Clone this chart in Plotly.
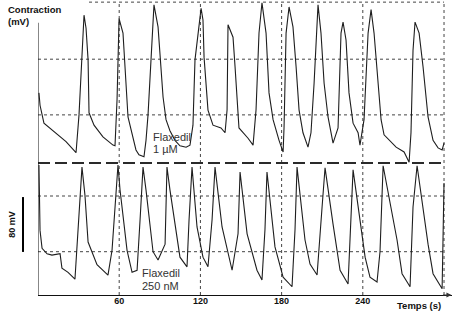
import plotly.graph_objects as go

# ---- data (time in s, contraction in mV, traces offset on a common scale) ----
top_t = [0.7, 1.5, 4.4, 13.3, 20.7, 28.1, 30.3, 34.0, 35.5, 37.0, 37.7, 41.4, 48.0, 55.4, 56.9, 58.4, 59.9,
         62.8, 66.5, 72.4, 74.6, 78.3, 79.8, 81.3, 85.7, 88.7, 92.4, 94.6, 97.5, 101.2, 104.9, 109.4, 112.3,
         114.5, 116.0, 120.5, 121.9, 122.7, 125.6, 129.3, 135.2, 138.2, 139.7, 140.4, 144.1, 145.6, 148.5,
         155.2, 158.9, 161.1, 163.3, 165.5, 168.5, 170.7, 173.7, 178.1, 181.1, 181.8, 183.3, 185.5, 188.4,
         190.7, 192.9, 195.8, 199.5, 201.7, 204.0, 206.9, 209.1, 211.4, 214.3, 218.0, 221.7, 223.9, 225.4,
         227.6, 229.8, 232.8, 236.5, 237.9, 240.9, 243.9, 246.1, 248.3, 251.3, 253.5, 255.7, 264.6, 270.5,
         274.2, 275.6, 277.1, 278.6, 281.6, 284.5, 288.2, 291.9, 295.6, 298.6, 300.0]
top_mv = [294, 276, 250, 236, 223, 207, 262, 407, 388, 342, 265, 247, 230, 218, 217, 284, 402,
          381, 259, 211, 204, 201, 225, 262, 422, 390, 288, 255, 239, 225, 217, 215, 218,
          247, 342, 417, 400, 346, 269, 247, 243, 236, 269, 393, 375, 332, 243,
          228, 218, 269, 381, 425, 381, 294, 255, 225, 208, 244, 381, 419, 390,
          332, 269, 236, 215, 236, 308, 422, 381, 308, 259, 221, 243, 381, 397,
          371, 294, 250, 236, 218, 255, 381, 415, 381, 308, 255, 233, 215, 208,
          193, 236, 356, 397, 381, 332, 259, 225, 214, 211, 221]

bot_t = [0.7, 1.5, 3.0, 6.7, 10.3, 16.3, 17.7, 22.2, 27.3, 30.3, 32.5, 34.7, 37.0, 43.6, 51.7, 54.7, 59.1,
         60.6, 65.8, 69.5, 73.2, 75.4, 77.6, 79.8, 85.0, 88.7, 93.9, 95.3, 97.5, 104.9, 110.1, 111.6, 113.8,
         117.5, 121.9, 125.6, 128.6, 130.8, 136.0, 143.4, 147.8, 149.3, 154.5, 161.8, 165.5, 167.7, 169.2,
         175.1, 181.1, 187.7, 189.9, 191.4, 197.3, 201.0, 206.2, 209.9, 212.1, 218.0, 223.2, 229.1, 230.6,
         232.8, 241.7, 245.3, 250.5, 252.7, 255.0, 265.3, 269.0, 274.9, 277.1, 280.1, 288.2, 291.9, 298.6, 300.0]
bot_mv = [189, 94, 68, 60, 58, 60, 39, 33, 23, 109, 186, 145, 77, 44, 29, 65, 189,
          153, 65, 33, 36, 109, 186, 153, 63, 51, 74, 186, 153, 55, 41, 109, 186,
          99, 55, 41, 109, 186, 99, 36, 89, 179, 89, 36, 22, 95, 179,
          70, 26, 12, 95, 186, 80, 45, 29, 128, 185, 103, 36, 16, 95,
          182, 55, 26, 19, 63, 188, 80, 31, 12, 128, 188, 74, 31, 9, 163]

x_ticks = [60, 120, 180, 240]
x_tick_labels = ["60", "120", "180", "240"]
v_grid = [60, 120, 180, 240, 300]
h_grid = [343, 262, 144, 63]
top_grid = 426
separator = 192

FONT = "Liberation Sans, Arial, sans-serif"
TRACE = "#1e1e1e"
GRID = "#444444"

fig = go.Figure()
fig.add_trace(go.Scatter(x=top_t, y=top_mv, mode="lines",
                         line=dict(color=TRACE, width=1.1), hoverinfo="skip", showlegend=False))
fig.add_trace(go.Scatter(x=bot_t, y=bot_mv, mode="lines",
                         line=dict(color=TRACE, width=1.1), hoverinfo="skip", showlegend=False))

shapes = []
for v in v_grid:
    shapes.append(dict(type="line", xref="x", yref="y", x0=v, x1=v, y0=0, y1=top_grid,
                       line=dict(color=GRID, width=1, dash="dot"), layer="below"))
for h in h_grid:
    shapes.append(dict(type="line", xref="x", yref="y", x0=0, x1=300, y0=h, y1=h,
                       line=dict(color=GRID, width=1, dash="dot"), layer="below"))
shapes.append(dict(type="line", xref="x", yref="y", x0=37.7, x1=300, y0=top_grid, y1=top_grid,
                   line=dict(color=GRID, width=1, dash="dot"), layer="below"))
# separator between the two recordings
shapes.append(dict(type="line", xref="x", yref="y", x0=0, x1=300, y0=separator, y1=separator,
                   line=dict(color="#2a2a2a", width=2, dash="12px,5px")))
# left axis
shapes.append(dict(type="line", xref="x", yref="y", x0=0, x1=0, y0=0, y1=396,
                   line=dict(color="#111111", width=1)))
# 80 mV scale bar
shapes.append(dict(type="line", xref="paper", yref="paper", x0=-0.0362, x1=-0.0362, y0=0.146, y1=0.332,
                   line=dict(color="#000000", width=2)))

annotations = [
    dict(text="<b>Contraction</b>", xref="paper", yref="paper", x=-0.078, y=0.968,
         xanchor="left", yanchor="middle", showarrow=False, font=dict(family=FONT, size=9.5, color="#111")),
    dict(text="<b>(mV)</b>", xref="paper", yref="paper", x=-0.078, y=0.928,
         xanchor="left", yanchor="middle", showarrow=False, font=dict(family=FONT, size=9.5, color="#111")),
    dict(text="<b>80 mV</b>", xref="paper", yref="paper", x=-0.063, y=0.241, textangle=-90,
         xanchor="center", yanchor="middle", showarrow=False, font=dict(family=FONT, size=9, color="#111")),
    dict(text="<b>Temps (s)</b>", xref="paper", yref="paper", x=0.978, y=-0.037,
         xanchor="right", yanchor="middle", showarrow=False, font=dict(family=FONT, size=9.5, color="#111")),
    dict(text="Flaxedil", xref="x", yref="y", x=83.5, y=230, xanchor="left", yanchor="middle",
         showarrow=False, font=dict(family=FONT, size=11, color="#333")),
    dict(text="1 µM", xref="x", yref="y", x=83.5, y=213, xanchor="left", yanchor="middle",
         showarrow=False, font=dict(family=FONT, size=11, color="#333")),
    dict(text="Flaxedil", xref="x", yref="y", x=75.4, y=32, xanchor="left", yanchor="middle",
         showarrow=False, font=dict(family=FONT, size=11, color="#333")),
    dict(text="250 nM", xref="x", yref="y", x=75.4, y=13, xanchor="left", yanchor="middle",
         showarrow=False, font=dict(family=FONT, size=11, color="#333")),
    # arrow at the end of the time axis
    dict(x=305.5, y=0, xref="x", yref="y", ax=-10, ay=0, axref="pixel", ayref="pixel",
         text="", showarrow=True, arrowhead=2, arrowsize=1, arrowwidth=1, arrowcolor="#333"),
]

fig.update_layout(
    width=463, height=317,
    margin=dict(l=38, r=11, t=0, b=22),
    paper_bgcolor="white", plot_bgcolor="white",
    shapes=shapes, annotations=annotations,
    xaxis=dict(range=[0, 305.9], showgrid=False, zeroline=False, showline=True,
               linecolor="#111111", linewidth=1, ticks="", ticklabelstandoff=-3,
               tickvals=x_ticks, ticktext=["<b>%s</b>" % s for s in x_tick_labels],
               tickfont=dict(family=FONT, size=9, color="#111")),
    yaxis=dict(range=[0, 429.1], visible=False),
)

fig.write_html("out.html")
